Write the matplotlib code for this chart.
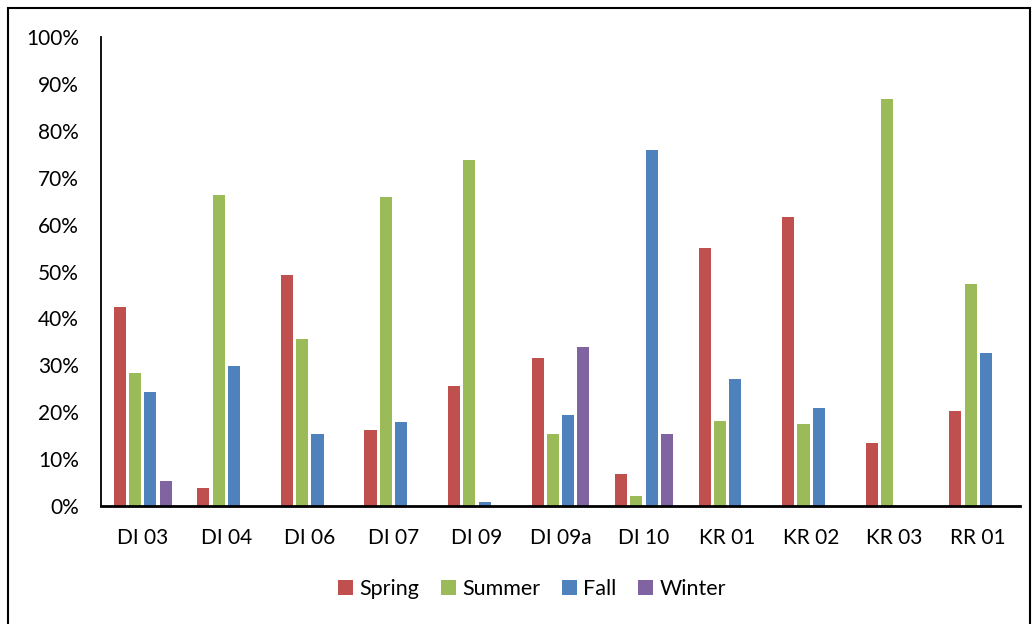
import matplotlib.pyplot as plt
import numpy as np
from matplotlib.patches import Rectangle
from matplotlib.ticker import PercentFormatter

# Data (percent)
sites = ['DI 03', 'DI 04', 'DI 06', 'DI 07', 'DI 09', 'DI 09a', 'DI 10', 'KR 01', 'KR 02', 'KR 03', 'RR 01']
spring = [42.4, 3.8, 49.3, 16.2, 25.6, 31.6, 6.8, 55.0, 61.6, 13.4, 20.3]
summer = [28.4, 66.3, 35.6, 65.9, 73.8, 15.4, 2.1, 18.1, 17.5, 86.8, 47.3]
fall = [24.3, 29.9, 15.3, 17.9, 0.8, 19.4, 75.9, 27.1, 20.9, 0, 32.6]
winter = [5.3, 0, 0, 0, 0, 33.9, 15.4, 0, 0, 0, 0]

series = [('Spring', spring, '#C0504D'),
          ('Summer', summer, '#9BBB59'),
          ('Fall', fall, '#4F81BD'),
          ('Winter', winter, '#8064A2')]

plt.rcParams['font.family'] = ['Lato', 'DejaVu Sans']

fig = plt.figure(figsize=(10.36, 6.24), dpi=100)
ax = fig.add_axes([101 / 1036, 1 - 506 / 624, (1020 - 101) / 1036, (506 - 37) / 624])

x = np.arange(len(sites))
step = 0.183
width = 0.145
for i, (name, vals, color) in enumerate(series):
    ax.bar(x + (i - 1.5) * step, vals, width, color=color, label=name)

ax.set_xlim(-0.5, len(sites) - 0.5)
ax.set_ylim(0, 100)
ax.set_yticks(np.arange(0, 101, 10))
ax.yaxis.set_major_formatter(PercentFormatter(decimals=0))
ax.set_xticks(x)
ax.set_xticklabels(sites)
ax.tick_params(axis='both', length=0, labelsize=15, colors='black')
ax.tick_params(axis='y', pad=16)
ax.tick_params(axis='x', pad=16)

for side in ['top', 'right']:
    ax.spines[side].set_visible(False)
ax.spines['left'].set_linewidth(1.3)
ax.spines['bottom'].set_linewidth(2)

fig.legend(loc='center', bbox_to_anchor=(532 / 1036, 1 - 589 / 624), ncol=4, frameon=False,
           fontsize=15.5, handlelength=0.7, handleheight=0.7, columnspacing=1.0, handletextpad=0.3)

# outer chart border
fig.patches.append(Rectangle((8 / 1036, -0.05), (1030 - 8) / 1036, 1.05 - 8 / 624,
                             transform=fig.transFigure, fill=False, edgecolor='black', linewidth=1.5))

fig.savefig('out.png', dpi=100)
